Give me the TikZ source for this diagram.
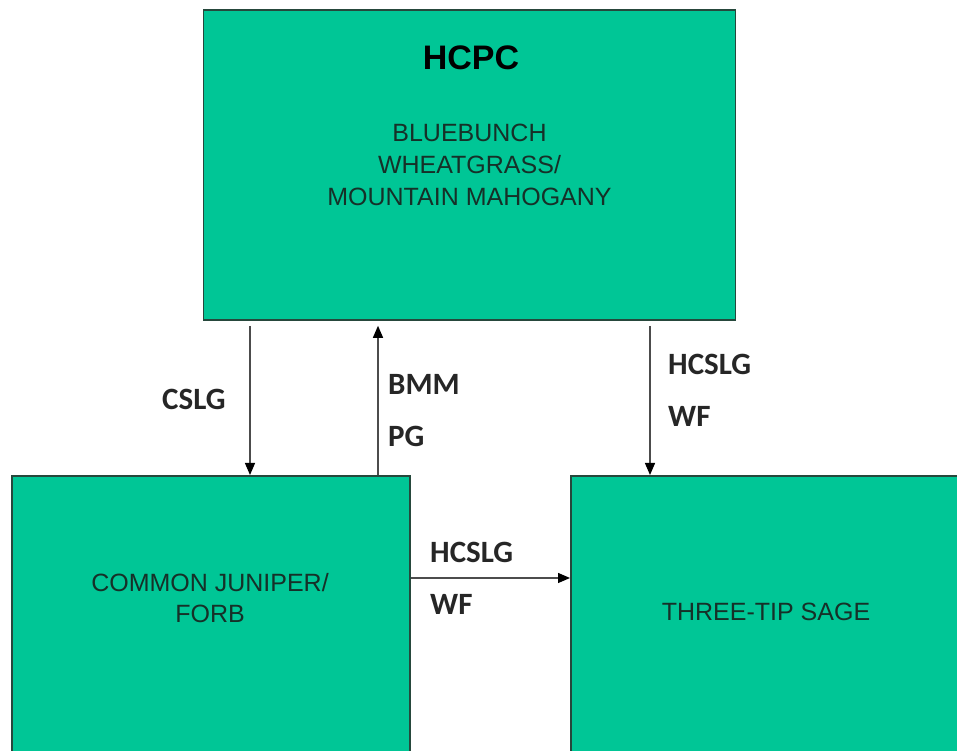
\documentclass[tikz,border=0pt]{standalone}
\usepackage{fontspec}
\setmainfont{Liberation Sans}
\newfontfamily\lblfont{Carlito}
\usetikzlibrary{arrows.meta,positioning,calc}
\definecolor{statefill}{RGB}{0,198,150}
\definecolor{stateedge}{RGB}{38,72,60}
\definecolor{statefont}{RGB}{22,48,40}
\tikzset{
  statebox/.style={rectangle, draw=stateedge, line width=1.6pt, fill=statefill, inner sep=0pt,
                   align=center, text=statefont, font=\fontsize{25}{32}\selectfont},
  statetext/.style={align=center, text=statefont, font=\fontsize{25}{31}\selectfont},
  arr/.style={-{Triangle[length=12pt, width=10pt, fill=black, color=black]}, line width=1.3pt, black!70},
  pathlbl/.style={font=\lblfont\bfseries\fontsize{31}{52}\selectfont, align=left, anchor=west,
                  text=black!85, inner sep=0pt},
}
\begin{document}
\begin{tikzpicture}[x=1pt, y=1pt]
\clip (0,0) rectangle (957,751);
\fill[white] (0,0) rectangle (957,751);
% states
\node[statebox, minimum width=532, minimum height=310] (hcpc) at (469.5,586)
  {BLUEBUNCH\\WHEATGRASS/\\MOUNTAIN MAHOGANY};
\node[font=\bfseries\fontsize{34}{40}\selectfont, anchor=base] (hcpctitle) at (471,681) {HCPC};
\node[statebox, minimum width=398, minimum height=330, anchor=north west] (cjf) at (11,276) {};
\node[statebox, minimum width=400, minimum height=330, anchor=north west] (tts) at (570,276) {};
\node[statetext] (cjftext) at (210,153) {COMMON JUNIPER/\\FORB};
\node[statetext] (ttstext) at (766,139) {THREE-TIP SAGE};
% transitions
\draw[arr, shorten <=5pt] (hcpc.south -| 250,0) -- (cjf.north -| 250,0);
\draw[arr, shorten >=5pt] (cjf.north -| 378,0) -- (hcpc.south -| 378,0);
\draw[arr, shorten <=5pt] (hcpc.south -| 650,0) -- (tts.north -| 650,0);
\draw[arr] (cjf.east |- 0,173) -- (tts.west |- 0,173);
% labels
\node[pathlbl] (cslg) at (162,352) {CSLG};
\node[pathlbl] (bmmpg) at (388,340) {BMM\\PG};
\node[pathlbl] (hcslgtop) at (668,361) {HCSLG\\WF};
\node[pathlbl] (hcslgmid) at (430,173) {HCSLG\\WF};
\end{tikzpicture}
\end{document}
